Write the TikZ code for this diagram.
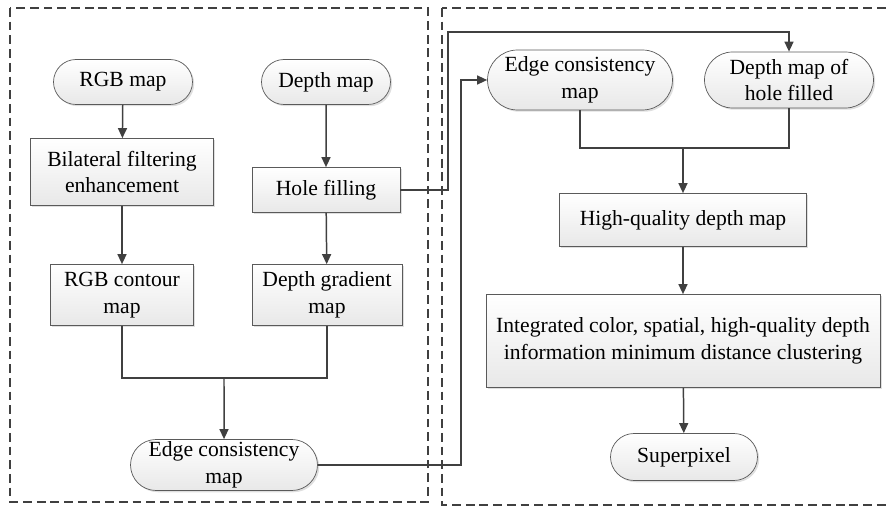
\documentclass[tikz,border=0pt]{standalone}
\usepackage{fontspec}
\setmainfont{Liberation Serif}
\usepackage{tikz}
\usetikzlibrary{arrows.meta,shapes.misc,shadows}
\definecolor{linegray}{HTML}{404040}
\definecolor{boxgray}{HTML}{5A5A5A}
\tikzstyle{procbox}  = [rectangle, draw=boxgray, top color=white, bottom color=black!9, align=center, inner sep=0pt, font=\rmfamily\fontsize{12.3}{15.2}\selectfont, drop shadow={shadow xshift=1pt, shadow yshift=-1pt, opacity=0.25, fill=gray}]
\tikzstyle{termbox}  = [rounded rectangle, draw=boxgray, top color=white, bottom color=black!9, align=center, inner sep=0pt, font=\rmfamily\fontsize{12.3}{15.2}\selectfont, drop shadow={shadow xshift=1pt, shadow yshift=-1pt, opacity=0.25, fill=gray}]
\tikzstyle{arrow}    = [draw=linegray, line width=0.85pt, ->, >={Triangle[length=5.7pt,width=5.1pt]}]
\tikzstyle{line}     = [draw=linegray, line width=0.85pt]
\tikzstyle{frame}    = [draw=black!75, line width=0.8pt, dash pattern=on 5pt off 2.8pt]
\begin{document}
\begin{tikzpicture}[x=0.02cm,y=-0.02cm]
		\useasboundingbox (0,0) rectangle (890,506);

		% the two dashed frames
		\draw[frame] (10,8) rectangle (428,502);
		\draw[frame] (442,8) rectangle (900,505);

		% left part
		\node[termbox, minimum width=2.78cm, minimum height=0.9cm] (rgb) at (123,82) {RGB map};
		\node[termbox, minimum width=2.58cm, minimum height=0.9cm] (depth) at (326,82) {Depth map};
		\node[procbox, minimum width=3.66cm, minimum height=1.34cm] (bilat) at (122,172) {Bilateral filtering\\enhancement};
		\node[procbox, minimum width=2.96cm, minimum height=0.9cm] (hole) at (326,190) {Hole filling};
		\node[procbox, minimum width=2.86cm, minimum height=1.22cm] (rgbc) at (122,295) {RGB contour\\map};
		\node[procbox, minimum width=3.0cm, minimum height=1.22cm] (dgrad) at (327,295) {Depth gradient\\map};
		\node[termbox, minimum width=3.74cm, minimum height=1.02cm] (ecl) at (224,465) {Edge consistency\\map};

		% right part
		\node[termbox, minimum width=3.7cm, minimum height=1.2cm] (ecr) at (580,80) {Edge consistency\\map};
		\node[termbox, minimum width=3.38cm, minimum height=1.12cm] (dmhf) at (789,80) {Depth map of\\hole filled};
		\node[procbox, minimum width=4.94cm, minimum height=1.06cm] (hq) at (683,220) {High-quality depth map};
		\node[procbox, minimum width=7.88cm, minimum height=1.86cm] (integ) at (683,341) {Integrated color, spatial, high-quality depth\\information minimum distance clustering};
		\node[termbox, minimum width=2.94cm, minimum height=0.94cm] (sp) at (684,457) {Superpixel};

		\coordinate (j1) at (224,378);
		\coordinate (j2) at (683,148);
		\coordinate (b1) at (461,80);
		\coordinate (b2) at (448,32);

		\draw[arrow] (rgb) -- (bilat);
		\draw[arrow] (bilat) -- (rgbc);
		\draw[arrow] (depth) -- (hole);
		\draw[arrow] (hole) -- (dgrad);
		\draw[line] (rgbc.south) |- (j1) -| (dgrad.south);
		\draw[arrow] (j1) -- (ecl);

		\draw[arrow] (ecl.east) -| (b1) -- (ecr.west);
		\draw[arrow] (hole.east) -| (b2) -| (dmhf.north);
		\draw[line] (ecr.south) |- (j2) -| (dmhf.south);
		\draw[arrow] (j2) -- (hq);
		\draw[arrow] (hq) -- (integ);
		\draw[arrow] (integ) -- (sp);
	\end{tikzpicture}
\end{document}
